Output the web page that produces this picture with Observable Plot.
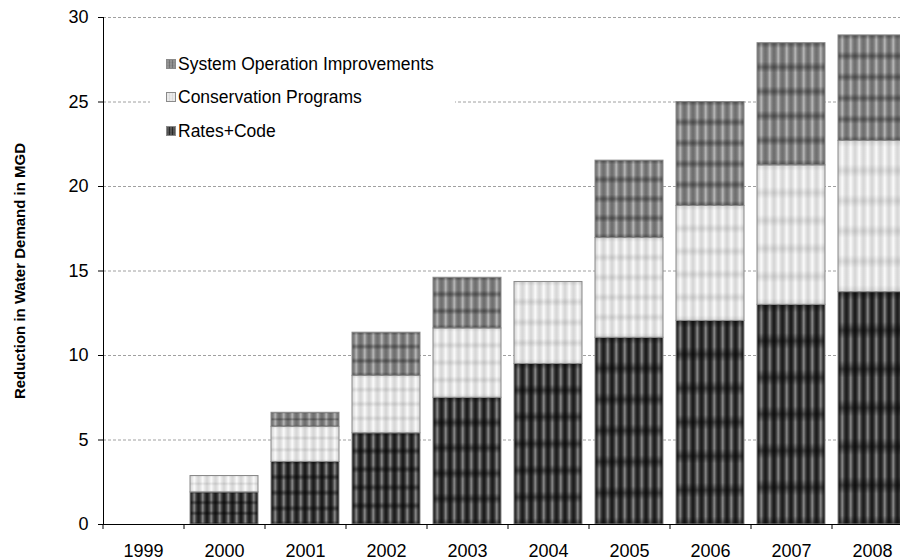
<!DOCTYPE html>
<html><head><meta charset="utf-8">
<script src="https://cdn.jsdelivr.net/npm/d3@7"></script>
<script src="https://cdn.jsdelivr.net/npm/@observablehq/plot@0.6"></script>
<style>
body{margin:0;background:#fff;overflow:hidden;font-family:"Liberation Sans",Arial,sans-serif}
#wrap{position:relative;width:900px;height:560px;overflow:hidden}
#legend{position:absolute;left:150px;top:43px;width:305px;height:104px;background:#fff}
.item{position:absolute;left:16px;height:20px;display:flex;align-items:center;font-size:17.5px;color:#000;white-space:nowrap}
.item svg{margin-right:2px;display:block}
</style></head><body>
<div id="wrap"><div id="chart"></div><div id="legend"></div></div>
<script>
// ---- data ----
const years = ["1999","2000","2001","2002","2003","2004","2005","2006","2007","2008"];
const ratesCode    = [0, 1.9, 3.7, 5.4, 7.5, 9.5, 11.05, 12.05, 13.0, 13.75];
const conservation = [0, 0.97, 2.08, 3.4, 4.1, 4.85, 5.9, 6.8, 8.25, 8.95];
const systemOps    = [0, 0, 0.83, 2.55, 3.0, 0, 4.58, 6.15, 7.23, 6.24];
const seriesKeys  = ["rates", "cons", "sys"];
const seriesNames = ["Rates+Code", "Conservation Programs", "System Operation Improvements"];
const yTicks = [0, 5, 10, 15, 20, 25, 30];
const yTitle = "Reduction in Water Demand in MGD";

const table = [];
[ratesCode, conservation, systemOps].forEach((arr, si) =>
  arr.forEach((v, i) => { if (v > 0) table.push({year: years[i], series: seriesKeys[si], value: v}); }));

// ---- styles ----
const pal = {
  rates: {h: ["#161616", "#3a3a3a", "#8a8a8a", "#3a3a3a", "#161616"], v: 0.5},
  cons:  {h: ["#d5d5d5", "#e4e4e4", "#fbfbfb", "#e4e4e4", "#d5d5d5"], v: 0.10},
  sys:   {h: ["#6c6c6c", "#808080", "#b8b8b8", "#808080", "#6c6c6c"], v: 0.35}
};
const xRange = [103, 913];
const step = (xRange[1] - xRange[0]) / years.length;

const plot = Plot.plot({
  width: 900, height: 560,
  marginTop: 17, marginBottom: 36, marginLeft: 103, marginRight: 0,
  style: {fontFamily: "'Liberation Sans', Arial, sans-serif", fontSize: "18px", overflow: "hidden", background: "#fff", color: "#000"},
  x: {domain: years, range: xRange, paddingInner: 0.16, paddingOuter: 0.08},
  y: {domain: [0, 30]},
  marks: [
    Plot.gridY(yTicks, {stroke: "#a0a0a0", strokeOpacity: 1, strokeDasharray: "3,2"}),
    Plot.barY(table, {x: "year", y: "value", z: "series", order: seriesKeys,
      fill: d => `url(#pat-${d.series})`, stroke: "#8a8a8a", strokeWidth: 1}),
    Plot.ruleY([0], {stroke: "#000"}),
    Plot.frame({anchor: "left", stroke: "#000"}),
    Plot.axisY(yTicks, {tickSize: 5, tickPadding: 10, label: yTitle, labelAnchor: "center",
      labelArrow: "none", labelOffset: 89}),
    Plot.axisX({tickSize: 5, dx: -step / 2, tickFormat: () => "", label: null}),
    Plot.axisX({tickSize: 0, tickPadding: 20, label: null})
  ]
});
document.getElementById("chart").appendChild(plot);

// y-axis title style
const lab = plot.querySelector('g[aria-label="y-axis label"] text');
if (lab) { lab.setAttribute("font-weight", "bold"); lab.setAttribute("font-size", "15px"); }

// ---- patterns ----
function makeGradients(defs, key, prefix) {
  const p = pal[key];
  const gh = defs.append("linearGradient").attr("id", `${prefix}gh-${key}`).attr("x1", 0).attr("x2", 1).attr("y1", 0).attr("y2", 0);
  p.h.forEach((c, i) => gh.append("stop").attr("offset", i / (p.h.length - 1)).attr("stop-color", c));
  const gv = defs.append("linearGradient").attr("id", `${prefix}gv-${key}`).attr("x1", 0).attr("x2", 0).attr("y1", 0).attr("y2", 1);
  [[0, p.v], [0.22, 0], [0.78, 0], [1, p.v]].forEach(([o, a]) =>
    gv.append("stop").attr("offset", o).attr("stop-color", "#000").attr("stop-opacity", a));
}
function makePattern(defs, key, cols, rows, id, prefix) {
  const w = 1 / cols, h = 1 / rows;
  const pt = defs.append("pattern").attr("id", id).attr("patternUnits", "objectBoundingBox")
    .attr("patternContentUnits", "objectBoundingBox").attr("width", w).attr("height", h);
  pt.append("rect").attr("width", w).attr("height", h).attr("fill", `url(#${prefix}gh-${key})`);
  pt.append("rect").attr("width", w).attr("height", h).attr("fill", `url(#${prefix}gv-${key})`);
}
const defs = d3.select(plot).insert("defs", ":first-child");
seriesKeys.forEach(k => makeGradients(defs, k, "c"));
const made = new Set();
d3.select(plot).selectAll("rect").each(function () {
  const f = this.getAttribute("fill");
  const m = f && f.match(/url\(#pat-(\w+)\)/);
  if (!m) return;
  const h = +this.getAttribute("height");
  const rows = Math.max(2, Math.min(6, Math.round(h / (8 + 0.13 * h))));
  const id = `pat-${m[1]}-${rows}`;
  if (!made.has(id)) { makePattern(defs, m[1], 8, rows, id, "c"); made.add(id); }
  this.setAttribute("fill", `url(#${id})`);
});

// ---- legend ----
const legend = d3.select("#legend");
const legendOrder = [2, 1, 0];
const rowTops = [11, 44, 78];
legendOrder.forEach((si, r) => {
  const key = seriesKeys[si];
  const it = legend.append("div").attr("class", "item").style("top", rowTops[r] + "px");
  const sw = it.append("svg").attr("width", 10).attr("height", 10);
  const sd = sw.append("defs");
  makeGradients(sd, key, "l");
  makePattern(sd, key, 3, 3, `lp-${key}`, "l");
  sw.append("rect").attr("x", 0.5).attr("y", 0.5).attr("width", 9).attr("height", 9)
    .attr("fill", `url(#lp-${key})`).attr("stroke", "#8a8a8a");
  it.append("span").text(seriesNames[si]);
});
</script>
</body></html>
